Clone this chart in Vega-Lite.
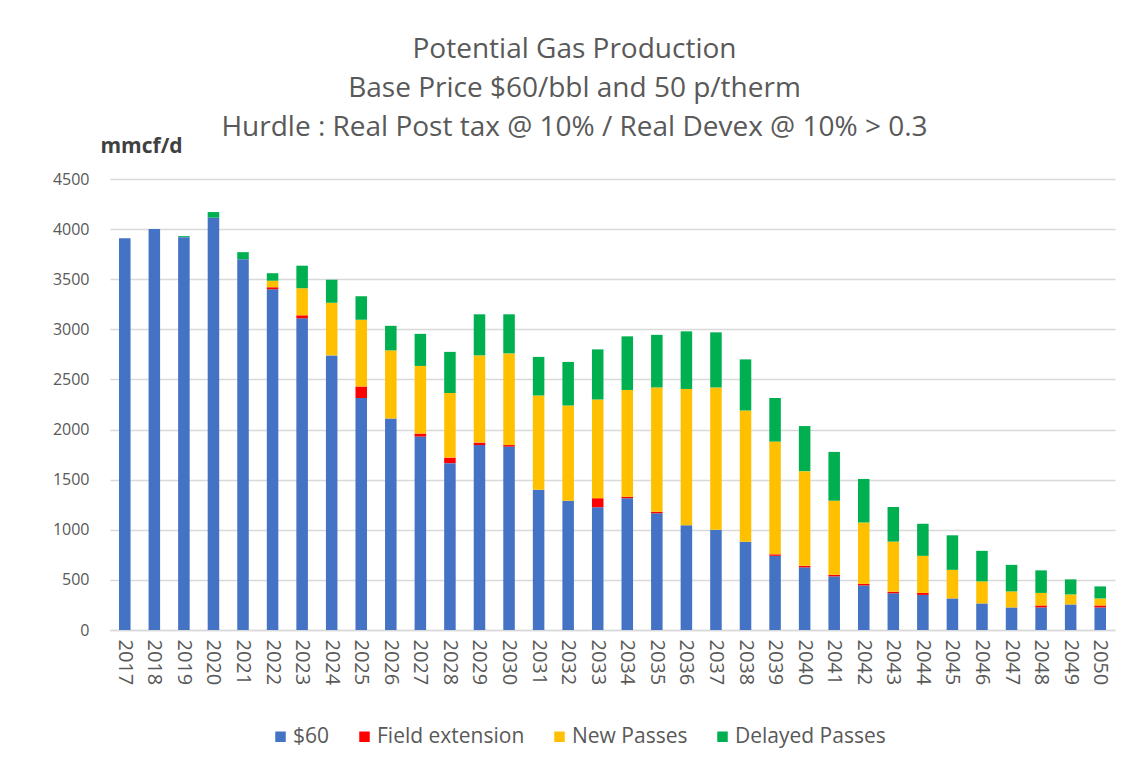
{
  "$schema": "https://vega.github.io/schema/vega-lite/v6.json",
  "width": 1005,
  "height": 451,
  "autosize": {"type": "none"},
  "padding": {"left": 110, "top": 179, "right": 22, "bottom": 137},
  "background": "white",
  "title": {
    "text": ["Potential Gas Production", "Base Price $60/bbl and 50 p/therm", "Hurdle : Real Post tax @ 10% / Real Devex @ 10% > 0.3"],
    "font": "Open Sans",
    "fontSize": 28,
    "fontWeight": "normal",
    "lineHeight": 39,
    "color": "#595959",
    "anchor": "middle",
    "dx": -38,
    "offset": -7
  },
  "data": {
    "values": [
      {"year": "2017", "$60": 3910, "Field extension": 0, "New Passes": 0, "Delayed Passes": 0},
      {"year": "2018", "$60": 4000, "Field extension": 0, "New Passes": 0, "Delayed Passes": 0},
      {"year": "2019", "$60": 3920, "Field extension": 0, "New Passes": 0, "Delayed Passes": 10},
      {"year": "2020", "$60": 4115, "Field extension": 0, "New Passes": 0, "Delayed Passes": 55},
      {"year": "2021", "$60": 3700, "Field extension": 0, "New Passes": 0, "Delayed Passes": 70},
      {"year": "2022", "$60": 3400, "Field extension": 20, "New Passes": 65, "Delayed Passes": 75},
      {"year": "2023", "$60": 3110, "Field extension": 30, "New Passes": 270, "Delayed Passes": 225},
      {"year": "2024", "$60": 2740, "Field extension": 0, "New Passes": 525, "Delayed Passes": 230},
      {"year": "2025", "$60": 2315, "Field extension": 115, "New Passes": 665, "Delayed Passes": 235},
      {"year": "2026", "$60": 2110, "Field extension": 0, "New Passes": 680, "Delayed Passes": 245},
      {"year": "2027", "$60": 1930, "Field extension": 30, "New Passes": 675, "Delayed Passes": 320},
      {"year": "2028", "$60": 1665, "Field extension": 55, "New Passes": 645, "Delayed Passes": 410},
      {"year": "2029", "$60": 1845, "Field extension": 25, "New Passes": 870, "Delayed Passes": 410},
      {"year": "2030", "$60": 1830, "Field extension": 15, "New Passes": 915, "Delayed Passes": 390},
      {"year": "2031", "$60": 1400, "Field extension": 0, "New Passes": 940, "Delayed Passes": 385},
      {"year": "2032", "$60": 1290, "Field extension": 0, "New Passes": 950, "Delayed Passes": 435},
      {"year": "2033", "$60": 1225, "Field extension": 90, "New Passes": 985, "Delayed Passes": 500},
      {"year": "2034", "$60": 1315, "Field extension": 15, "New Passes": 1065, "Delayed Passes": 535},
      {"year": "2035", "$60": 1165, "Field extension": 15, "New Passes": 1240, "Delayed Passes": 525},
      {"year": "2036", "$60": 1045, "Field extension": 0, "New Passes": 1360, "Delayed Passes": 575},
      {"year": "2037", "$60": 1000, "Field extension": 0, "New Passes": 1420, "Delayed Passes": 550},
      {"year": "2038", "$60": 880, "Field extension": 0, "New Passes": 1310, "Delayed Passes": 510},
      {"year": "2039", "$60": 740, "Field extension": 15, "New Passes": 1125, "Delayed Passes": 435},
      {"year": "2040", "$60": 625, "Field extension": 15, "New Passes": 945, "Delayed Passes": 450},
      {"year": "2041", "$60": 535, "Field extension": 15, "New Passes": 740, "Delayed Passes": 487},
      {"year": "2042", "$60": 445, "Field extension": 15, "New Passes": 613, "Delayed Passes": 434},
      {"year": "2043", "$60": 367, "Field extension": 15, "New Passes": 500, "Delayed Passes": 345},
      {"year": "2044", "$60": 350, "Field extension": 20, "New Passes": 370, "Delayed Passes": 320},
      {"year": "2045", "$60": 315, "Field extension": 0, "New Passes": 285, "Delayed Passes": 345},
      {"year": "2046", "$60": 265, "Field extension": 0, "New Passes": 220, "Delayed Passes": 305},
      {"year": "2047", "$60": 225, "Field extension": 0, "New Passes": 160, "Delayed Passes": 265},
      {"year": "2048", "$60": 225, "Field extension": 20, "New Passes": 125, "Delayed Passes": 225},
      {"year": "2049", "$60": 255, "Field extension": 0, "New Passes": 100, "Delayed Passes": 150},
      {"year": "2050", "$60": 225, "Field extension": 20, "New Passes": 70, "Delayed Passes": 120}
    ]
  },
  "transform": [
    {"fold": ["$60", "Field extension", "New Passes", "Delayed Passes"], "as": ["series", "value"]},
    {
      "lookup": "series",
      "from": {
        "data": {
          "values": [
            {"series": "$60", "rank": 1},
            {"series": "Field extension", "rank": 2},
            {"series": "New Passes", "rank": 3},
            {"series": "Delayed Passes", "rank": 4}
          ]
        },
        "key": "series",
        "fields": ["rank"]
      }
    }
  ],
  "mark": {"type": "bar"},
  "encoding": {
    "x": {
      "field": "year",
      "type": "ordinal",
      "title": null,
      "scale": {"paddingInner": 0.61, "paddingOuter": 0.305},
      "axis": {
        "labelAngle": 90,
        "labelAlign": "left",
        "labelBaseline": "middle",
        "labelFont": "Open Sans",
        "labelFontSize": 20,
        "labelColor": "#595959",
        "labelPadding": 9,
        "ticks": false,
        "domainColor": "#d9d9d9",
        "domainWidth": 1.5,
        "grid": false
      }
    },
    "y": {
      "field": "value",
      "type": "quantitative",
      "stack": "zero",
      "scale": {"domain": [0, 4500], "nice": false},
      "title": "mmcf/d",
      "axis": {
        "values": [0, 500, 1000, 1500, 2000, 2500, 3000, 3500, 4000, 4500],
        "format": "d",
        "labelFont": "Open Sans",
        "labelFontSize": 16,
        "labelColor": "#595959",
        "labelPadding": 21,
        "ticks": false,
        "domain": false,
        "gridColor": "#d9d9d9",
        "gridWidth": 1.5,
        "titleAngle": 0,
        "titleAlign": "left",
        "titleBaseline": "alphabetic",
        "titleX": -10,
        "titleY": -27,
        "titleFont": "Open Sans",
        "titleFontSize": 21,
        "titleFontWeight": "bold",
        "titleColor": "#404040"
      }
    },
    "color": {
      "field": "series",
      "type": "nominal",
      "sort": ["$60", "Field extension", "New Passes", "Delayed Passes"],
      "scale": {
        "domain": ["$60", "Field extension", "New Passes", "Delayed Passes"],
        "range": ["#4472C4", "#FF0000", "#FFC000", "#00B050"]
      },
      "legend": {
        "title": null,
        "orient": "none",
        "direction": "horizontal",
        "legendX": 160,
        "legendY": 547,
        "symbolType": "square",
        "symbolSize": 110,
        "symbolStrokeWidth": 0,
        "labelFont": "Open Sans",
        "labelFontSize": 21,
        "labelColor": "#595959",
        "columnPadding": 24,
        "labelOffset": 2
      }
    },
    "order": {"field": "rank", "type": "quantitative", "sort": "ascending"}
  },
  "config": {
    "view": {"stroke": null}
  }
}
